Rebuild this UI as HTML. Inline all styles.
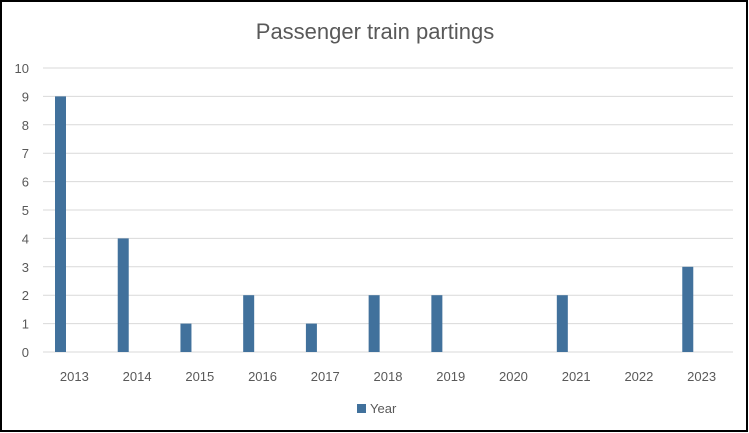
<!DOCTYPE html>
<html><head><meta charset="utf-8"><style>
html,body{margin:0;padding:0;background:#fff}
svg{display:block;font-family:"Liberation Sans",sans-serif}
</style></head><body>
<svg id="chart" width="749" height="433">
<rect x="1" y="1" width="746" height="430" fill="#fff" stroke="#000" stroke-width="2"/>
<text x="375" y="39" text-anchor="middle" font-size="22" fill="#595959">Passenger train partings</text>
<g id="grid"></g><g id="bars"></g><g id="labels"></g>
<rect x="357" y="404" width="9" height="9" fill="#41719c"/>
<text x="370" y="413" font-size="13" fill="#595959">Year</text>
</svg>
<script>
const categories=["2013","2014","2015","2016","2017","2018","2019","2020","2021","2022","2023"];
const values=[9,4,1,2,1,2,2,0,2,0,3];
const yTicks=[0,1,2,3,4,5,6,7,8,9,10];
const NS="http://www.w3.org/2000/svg";
const L=43,R=733,T=68,B=352,cw=(R-L)/categories.length;
const y=v=>B-(v/10)*(B-T);
const x=i=>L+i*cw;
function mk(t,a,p){const e=document.createElementNS(NS,t);for(const k in a)e.setAttribute(k,a[k]);document.getElementById(p).appendChild(e);return e;}
yTicks.forEach(t=>{
 const g=mk('line',{x1:L,x2:R,y1:y(t),y2:y(t),stroke:'#d9d9d9','stroke-width':1},'grid');
 
 
 const tx=mk('text',{x:29,y:y(t)+5,'text-anchor':'end','font-size':13,fill:'#595959'},'labels');
 tx.textContent=t;
 
 
});
categories.forEach((c,i)=>{
 const b=mk('rect',{x:x(i)+12,y:y(values[i]),width:11,height:B-y(values[i]),fill:'#41719c'},'bars');
 
 
 const tx=mk('text',{x:x(i)+cw/2,y:381,'text-anchor':'middle','font-size':13,fill:'#595959'},'labels');
 tx.textContent=c;
 
 
});
</script>
</body></html>
